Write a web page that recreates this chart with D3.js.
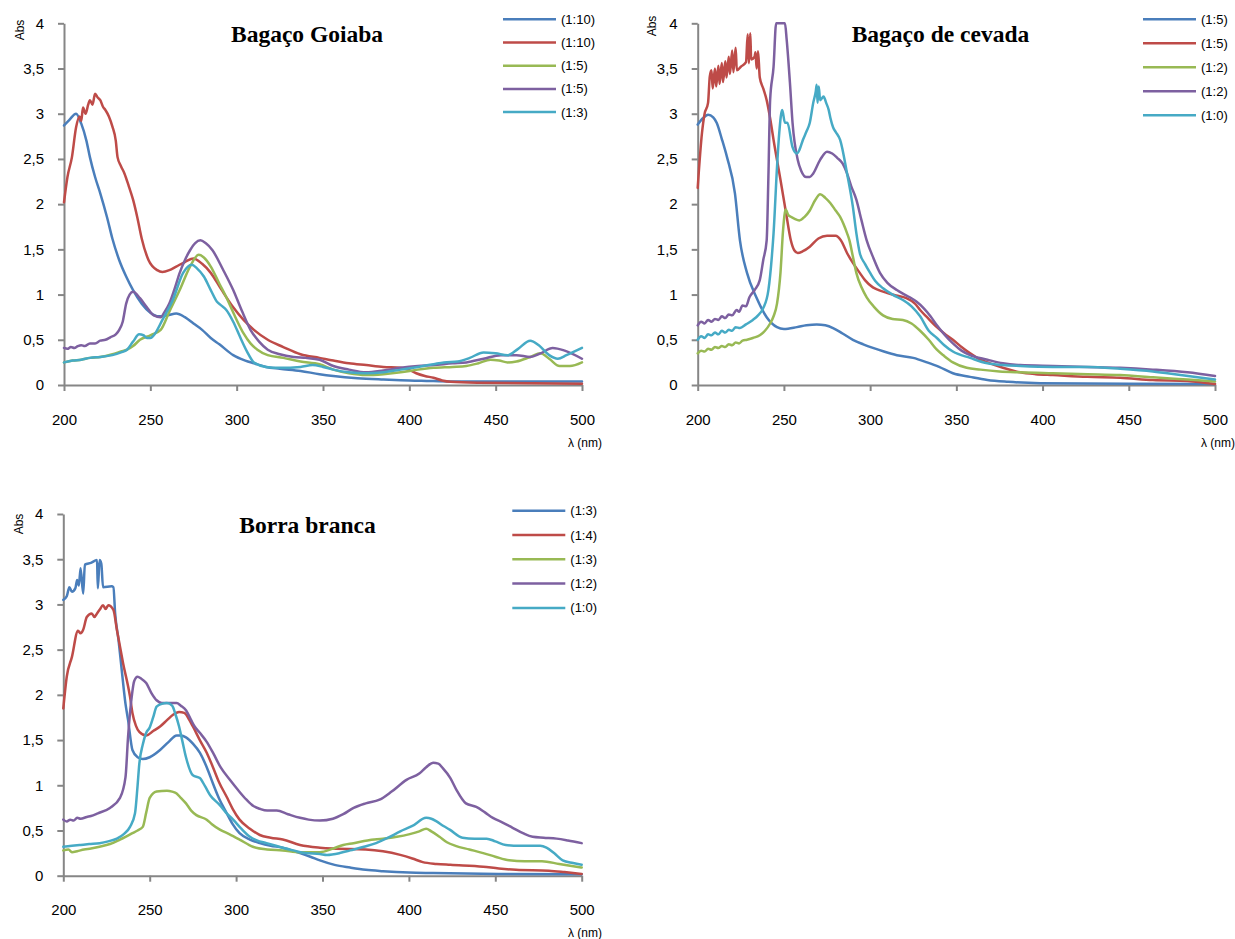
<!DOCTYPE html>
<html><head><meta charset="utf-8">
<script src="https://cdn.jsdelivr.net/npm/d3@7"></script>
<style>body{margin:0;background:#fff}svg{display:block;background:#fff}</style>
</head><body><svg id="c" width="1235" height="939"></svg>
<script>
// ---------- tick labels ----------
const xTicks = [200, 250, 300, 350, 400, 450, 500];
const yTicks = [0, 0.5, 1, 1.5, 2, 2.5, 3, 3.5, 4];
const yTickLabels = ["0", "0,5", "1", "1,5", "2", "2,5", "3", "3,5", "4"];
const seriesColors = ["#4A7EBB", "#BE4B48", "#98B954", "#7D60A0", "#46AAC5"];

// ---------- Bagaço Goiaba ----------
const goiabaTitle = "Bagaço Goiaba";
const goiabaLegend = ["(1:10)", "(1:10)", "(1:5)", "(1:5)", "(1:3)"];
const goiaba1 = [[200,2.87],[203,2.93],[207,3.0],[210,2.89],[213,2.7],[215,2.52],[218,2.3],[221,2.12],[225,1.85],[228,1.62],[232,1.38],[236,1.2],[240,1.05],[245,0.9],[250,0.8],[255,0.76],[260,0.77],[265,0.79],[270,0.75],[275,0.68],[280,0.61],[285,0.52],[290,0.45],[298,0.33],[305,0.27],[310,0.24],[317,0.2],[325,0.18],[337,0.155],[348,0.12],[356,0.1],[370,0.075],[385,0.06],[395,0.052],[410,0.045],[424,0.04],[450,0.04],[500,0.04]];
const goiaba2 = [[200,2.02],[202,2.3],[204.6,2.52],[207,2.85],[209,2.97],[210,2.92],[211,3.07],[212.5,3.0],[214,3.1],[215,3.15],[216.5,3.1],[218,3.22],[219.5,3.18],[221,3.15],[222.5,3.08],[224,3.04],[226,2.97],[228,2.86],[230,2.7],[231,2.52],[233,2.42],[235,2.34],[237.5,2.2],[240,2.05],[242.5,1.85],[245,1.62],[249,1.38],[254,1.27],[257,1.25],[261,1.27],[265,1.31],[270,1.36],[275,1.4],[280,1.34],[285,1.24],[291,1.06],[298,0.86],[304,0.72],[310,0.61],[318,0.5],[327,0.42],[337,0.34],[348,0.3],[356,0.27],[365,0.24],[375,0.22],[385,0.2],[395,0.19],[400,0.165],[404,0.13],[409,0.1],[414,0.08],[419,0.05],[424,0.035],[440,0.025],[500,0.015]];
const goiaba3 = [[200,0.25],[205,0.27],[210,0.28],[215,0.3],[221,0.31],[228,0.34],[233,0.37],[236.5,0.39],[240,0.43],[244,0.5],[250,0.55],[256,0.61],[261,0.81],[267,1.05],[273,1.31],[278,1.44],[281,1.41],[285,1.31],[290,1.12],[294,0.97],[299,0.76],[304,0.57],[308,0.46],[312,0.39],[318,0.33],[327,0.3],[337,0.26],[348,0.23],[356,0.17],[365,0.13],[375,0.11],[385,0.12],[395,0.14],[405,0.17],[414,0.19],[425,0.2],[433,0.21],[440,0.24],[447,0.28],[452,0.27],[457,0.25],[462,0.26],[470,0.31],[476,0.35],[481,0.29],[487,0.21],[493,0.21],[500,0.25]];
const goiaba4 = [[200,0.41],[202,0.4],[204,0.42],[206,0.41],[208,0.43],[210,0.44],[212,0.43],[215,0.46],[218,0.46],[221,0.49],[224,0.5],[227,0.53],[230,0.56],[232,0.61],[234,0.7],[236,0.9],[238,1.0],[240,1.03],[244,0.96],[248,0.86],[252,0.77],[256,0.75],[258,0.8],[261,0.9],[264,1.06],[267,1.24],[270,1.38],[273,1.49],[276,1.57],[279,1.6],[282,1.57],[286,1.49],[292,1.28],[298,1.05],[303,0.82],[308,0.61],[313,0.48],[318,0.39],[325,0.34],[333,0.31],[340,0.3],[348,0.28],[356,0.21],[365,0.17],[375,0.14],[385,0.16],[395,0.19],[405,0.21],[414,0.22],[425,0.24],[433,0.25],[443,0.29],[453,0.33],[462,0.33],[470,0.31],[476,0.35],[483,0.41],[490,0.38],[500,0.29]];
const goiaba5 = [[200,0.25],[205,0.27],[210,0.28],[215,0.3],[221,0.31],[228,0.33],[233,0.36],[236.5,0.39],[240,0.48],[243.5,0.56],[246,0.55],[248,0.52],[250,0.52],[252,0.55],[257,0.72],[263,0.94],[269,1.24],[274,1.33],[277,1.29],[281,1.2],[285,1.05],[288.6,0.92],[291,0.88],[294,0.83],[298,0.7],[302,0.53],[306,0.37],[310,0.25],[317,0.2],[325,0.19],[337,0.2],[344,0.22],[350,0.2],[356,0.17],[365,0.14],[375,0.13],[385,0.14],[395,0.17],[405,0.2],[414,0.23],[420,0.25],[428,0.26],[435,0.3],[443,0.36],[450,0.35],[457,0.33],[463,0.4],[470,0.49],[475,0.44],[481,0.33],[486,0.29],[491,0.33],[500,0.41]];

// ---------- Bagaço de cevada ----------
const cevadaTitle = "Bagaço de cevada";
const cevadaLegend = ["(1:5)", "(1:5)", "(1:2)", "(1:2)", "(1:0)"];
const cevada1 = [[200,2.88],[203,2.95],[206,2.99],[209,2.96],[211,2.9],[214,2.72],[217,2.52],[221.6,2.12],[224.5,1.6],[228.6,1.24],[234,0.97],[240,0.75],[246,0.64],[250,0.62],[257.5,0.64],[263,0.66],[269,0.67],[274,0.66],[278.5,0.63],[284,0.57],[290,0.5],[296,0.45],[301.6,0.41],[308,0.37],[315.5,0.33],[325,0.3],[333,0.25],[340,0.2],[348,0.13],[358,0.09],[368,0.055],[380,0.035],[398.6,0.02],[450,0.015],[500,0.01]];
const cevada2 = [[200,2.18],[202.5,2.79],[204,3.0],[206,3.12],[207,3.41],[208,3.48],[208.7,3.28],[210,3.5],[210.7,3.3],[212,3.53],[212.7,3.33],[214,3.56],[214.7,3.35],[216,3.58],[216.7,3.4],[218,3.63],[218.7,3.44],[220,3.7],[220.7,3.46],[222,3.73],[222.7,3.48],[225,3.52],[228,3.57],[229,3.88],[229.7,3.56],[230.5,3.89],[231,3.6],[233,3.63],[233.5,3.68],[234.2,3.5],[235,3.69],[236,3.4],[238,3.28],[240,3.15],[242,2.95],[244,2.71],[248,2.27],[251.6,1.86],[254,1.6],[256,1.49],[258,1.46],[261,1.48],[265,1.53],[270,1.62],[275,1.65],[280,1.65],[283,1.6],[286.6,1.46],[290,1.35],[294,1.24],[297,1.16],[301.6,1.08],[305,1.05],[309.6,1.02],[315,0.99],[321,0.96],[326,0.9],[329,0.83],[333,0.75],[338.7,0.64],[343,0.57],[348,0.5],[353,0.42],[358,0.35],[363,0.29],[368,0.25],[377,0.19],[387,0.14],[396,0.12],[406,0.11],[426,0.09],[445,0.08],[464,0.055],[484,0.045],[500,0.01]];
const cevada3 = [[200,0.35],[202,0.38],[204,0.37],[206,0.4],[208,0.39],[210,0.42],[212,0.41],[214,0.43],[216,0.42],[218,0.45],[220,0.44],[222,0.47],[224,0.46],[226,0.49],[228.6,0.5],[232,0.52],[236,0.55],[239,0.6],[242,0.68],[244,0.76],[246,0.9],[248,1.24],[249.5,1.71],[251,1.94],[252.5,1.88],[254,1.86],[256,1.84],[259,1.82],[262,1.86],[265,1.93],[268,2.04],[271,2.11],[274,2.07],[277,2.01],[280,1.93],[282.6,1.86],[286.6,1.68],[288,1.6],[290,1.42],[292,1.24],[295,1.08],[298,0.97],[302,0.87],[307.5,0.77],[313,0.73],[319,0.72],[324,0.68],[329,0.6],[334,0.5],[338.7,0.39],[343,0.32],[348,0.25],[356,0.19],[364,0.17],[375,0.15],[387,0.14],[406,0.13],[426,0.12],[445,0.11],[464,0.085],[484,0.06],[500,0.04]];
const cevada4 = [[200,0.66],[202,0.7],[204,0.68],[206,0.72],[208,0.7],[210,0.73],[212,0.72],[214,0.76],[216,0.74],[218,0.78],[220,0.77],[222.6,0.83],[224,0.81],[226,0.88],[228,0.87],[230,0.97],[233,1.05],[236,1.16],[238,1.38],[240,1.6],[241,2.3],[242,3.15],[244,3.52],[245.5,4.0],[250.6,4.0],[251.6,3.82],[253.5,3.34],[255,2.9],[258,2.49],[260,2.37],[263,2.3],[265,2.3],[267,2.34],[271,2.49],[275,2.58],[278,2.56],[281,2.51],[284,2.45],[286.6,2.34],[289,2.2],[292,2.05],[295,1.82],[298,1.6],[302,1.4],[305.7,1.24],[310,1.13],[315.5,1.05],[319,1.01],[323,0.97],[327,0.92],[331,0.85],[335,0.76],[338.7,0.66],[343,0.56],[348,0.46],[353,0.38],[358,0.33],[368,0.28],[377,0.24],[387,0.22],[406,0.21],[426,0.2],[445,0.19],[464,0.17],[484,0.14],[500,0.1]];
const cevada5 = [[200,0.5],[202,0.54],[204,0.52],[206,0.56],[208,0.55],[210,0.58],[212,0.56],[214,0.6],[216,0.58],[218,0.61],[220,0.6],[222,0.64],[224.5,0.63],[228,0.67],[232,0.72],[235,0.77],[238,0.85],[241,1.05],[243,1.42],[244,1.68],[246,2.41],[247.3,2.79],[249,3.04],[250.6,2.9],[252,2.9],[255,2.63],[257.5,2.56],[259,2.6],[261,2.71],[263,2.8],[265,2.9],[267,3.12],[268.5,3.25],[269,3.32],[269.5,3.12],[270.2,3.3],[271,3.15],[273,3.19],[274.5,3.12],[276,3.04],[277,2.95],[278.5,2.85],[280,2.8],[282.6,2.71],[286.6,2.34],[290,1.97],[292,1.68],[294,1.46],[297,1.34],[300,1.24],[303,1.15],[307.5,1.07],[313,1.0],[319,0.94],[324,0.87],[329,0.76],[334,0.6],[338.7,0.52],[343,0.44],[348,0.37],[358,0.3],[368,0.24],[377,0.22],[387,0.21],[406,0.2],[426,0.2],[445,0.18],[464,0.15],[480,0.11],[500,0.06]];

// ---------- Borra branca ----------
const borraTitle = "Borra branca";
const borraLegend = ["(1:3)", "(1:4)", "(1:3)", "(1:2)", "(1:0)"];
const borra1 = [[200,3.05],[202,3.09],[203.5,3.19],[205,3.14],[207,3.18],[208,3.27],[209,3.21],[210,3.4],[211.5,3.12],[212.5,3.44],[216,3.46],[219.5,3.49],[220,3.18],[221,3.49],[222,3.45],[223,3.19],[228,3.2],[229,3.19],[230,2.9],[232,2.6],[234,2.24],[236,1.9],[237.5,1.72],[240,1.39],[243,1.31],[246,1.29],[250,1.31],[256,1.39],[261,1.48],[265.6,1.55],[268,1.55],[271,1.53],[275,1.46],[279,1.36],[283,1.2],[286.6,1.02],[290,0.86],[294.6,0.69],[298,0.57],[302,0.47],[308,0.4],[313.7,0.36],[320,0.33],[327,0.31],[332,0.28],[337,0.25],[343,0.21],[348.5,0.17],[357,0.12],[366,0.09],[375,0.065],[385,0.05],[400,0.035],[414,0.03],[452,0.02],[500,0.015]];
const borra2 = [[200,1.85],[202,2.2],[205,2.42],[208.5,2.71],[210,2.68],[211.5,2.72],[213.6,2.86],[216.5,2.9],[218,2.86],[219.5,2.9],[221,2.94],[223,2.99],[224.5,2.95],[226,2.99],[229,2.94],[231,2.72],[234.6,2.35],[238.6,1.98],[240,1.8],[242,1.66],[244,1.59],[248,1.55],[252,1.6],[256,1.65],[260,1.72],[263.5,1.78],[267,1.81],[270,1.8],[273,1.72],[275,1.65],[279,1.5],[283,1.36],[286.6,1.2],[290,1.04],[294.6,0.87],[298,0.74],[302,0.62],[308,0.52],[313.7,0.45],[320,0.42],[327,0.4],[337,0.34],[348.5,0.31],[356,0.3],[375,0.29],[385,0.27],[395,0.23],[402,0.19],[408,0.15],[416,0.13],[424,0.12],[443,0.1],[452,0.08],[462,0.065],[481,0.055],[490,0.04],[500,0.02]];
const borra3 = [[200,0.28],[203,0.29],[205,0.26],[208,0.27],[212,0.29],[216,0.3],[221,0.32],[227,0.35],[232.8,0.4],[236,0.43],[240,0.47],[243,0.5],[246,0.54],[248,0.7],[250,0.86],[254,0.93],[260,0.94],[263,0.93],[265.6,0.91],[268,0.86],[271,0.8],[274,0.72],[277,0.67],[283,0.62],[286,0.57],[290.6,0.51],[296,0.46],[302,0.4],[309.7,0.32],[318,0.29],[327,0.28],[337,0.26],[348.5,0.26],[356,0.3],[362,0.34],[368,0.36],[376,0.39],[385,0.41],[393,0.43],[400.5,0.46],[406,0.49],[410,0.52],[413,0.49],[417.7,0.43],[422,0.37],[427,0.33],[435,0.29],[443,0.25],[450,0.21],[458,0.17],[467,0.16],[477,0.16],[487,0.13],[500,0.09]];
const borra4 = [[200,0.62],[202,0.6],[204,0.62],[206,0.61],[208,0.64],[210,0.63],[213.6,0.65],[216,0.66],[220,0.69],[227,0.75],[232.8,0.86],[236,1.09],[237.5,1.54],[239.6,1.98],[241,2.15],[243,2.2],[245,2.18],[248,2.13],[251,2.02],[254,1.94],[257,1.91],[260,1.91],[265.6,1.91],[268,1.88],[271,1.83],[274,1.72],[276,1.65],[279,1.58],[283,1.48],[286.6,1.36],[291,1.2],[296.4,1.06],[301,0.95],[306,0.84],[310,0.77],[313.7,0.74],[318,0.72],[323.5,0.72],[330,0.68],[337,0.64],[342,0.62],[348.5,0.61],[356,0.63],[362,0.68],[368,0.75],[375,0.8],[383,0.84],[390,0.93],[398.6,1.06],[406,1.13],[410,1.2],[414,1.25],[417,1.24],[419.6,1.19],[424,1.08],[427.5,0.95],[433,0.8],[439,0.76],[444,0.7],[448.6,0.64],[454,0.59],[460,0.53],[466,0.47],[471.6,0.43],[478,0.42],[485.5,0.41],[492,0.39],[500,0.36]];
const borra5 = [[200,0.32],[205,0.33],[210,0.34],[215,0.35],[221,0.36],[226,0.38],[231,0.41],[235,0.46],[238.6,0.54],[241.5,0.69],[243,1.0],[244,1.24],[246,1.45],[248,1.58],[250,1.64],[252,1.75],[254,1.87],[257,1.9],[260,1.91],[263,1.88],[265,1.78],[267,1.65],[269,1.48],[271,1.31],[275,1.11],[279,1.08],[282,0.99],[285,0.89],[290.6,0.78],[294,0.7],[298.3,0.62],[303,0.52],[308,0.43],[312,0.39],[317.6,0.36],[325,0.32],[333,0.28],[340,0.25],[348.5,0.24],[352.6,0.23],[360,0.25],[366,0.28],[374,0.32],[381,0.36],[388,0.42],[395,0.49],[402,0.55],[410,0.64],[413,0.63],[416,0.6],[420,0.55],[423.6,0.51],[431,0.42],[438,0.41],[445,0.41],[450,0.38],[456,0.34],[464,0.33],[471.6,0.33],[476,0.33],[479.6,0.31],[484,0.25],[489,0.17],[495,0.14],[500,0.12]];

// ---------- layout ----------
const panels = [
  { title: goiabaTitle, legend: goiabaLegend, series: [goiaba1, goiaba2, goiaba3, goiaba4, goiaba5],
    px0: 64, px1: 582, pyTop: 23.3, pyBot: 385, titleX: 231, titleY: 41.7,
    legX: 503, legY: 19.3, legDy: 23.2, absX: 20, absY: 30, lamX: 602, lamY: 447 },
  { title: cevadaTitle, legend: cevadaLegend, series: [cevada1, cevada2, cevada3, cevada4, cevada5],
    px0: 697.7, px1: 1215, pyTop: 23.3, pyBot: 385, titleX: 851.7, titleY: 41.7,
    legX: 1143, legY: 19.3, legDy: 24, absX: 652, absY: 26, lamX: 1235, lamY: 447 },
  { title: borraTitle, legend: borraLegend, series: [borra1, borra2, borra3, borra4, borra5],
    px0: 63.3, px1: 581.7, pyTop: 514, pyBot: 875.7, titleX: 239.3, titleY: 532.7,
    legX: 512.3, legY: 510.7, legDy: 24.3, absX: 19, absY: 524, lamX: 602, lamY: 937 }
];

const svg = d3.select("#c");
const axisColor = "#868686";
const sansFont = "'Liberation Sans', Arial, sans-serif";

panels.forEach(p => {
  const x = d3.scaleLinear().domain([200, 500]).range([p.px0, p.px1]);
  const y = d3.scaleLinear().domain([0, 4]).range([p.pyBot, p.pyTop]);
  const g = svg.append("g");

  const ya = g.append("g").attr("transform", `translate(${p.px0},0)`)
    .call(d3.axisLeft(y).tickValues(yTicks).tickFormat((d, i) => yTickLabels[i]).tickSize(6).tickSizeOuter(0).tickPadding(14));
  const xa = g.append("g").attr("transform", `translate(0,${p.pyBot})`)
    .call(d3.axisBottom(x).tickValues(xTicks).tickFormat(d3.format("d")).tickSize(6).tickSizeOuter(0));
  [ya, xa].forEach(a => {
    a.select(".domain").attr("stroke", axisColor).attr("stroke-width", 2);
    a.selectAll(".tick line").attr("stroke", axisColor).attr("stroke-width", 2);
    a.selectAll(".tick text").attr("fill", "#000").style("font-family", sansFont).style("font-size", "15px");
  });
  xa.selectAll(".tick text").attr("y", 39.5).attr("dy", null);

  const line = d3.line().x(d => x(d[0])).y(d => y(d[1])).curve(d3.curveMonotoneX);
  p.series.forEach((s, i) => {
    g.append("path").datum(s).attr("d", line)
      .attr("fill", "none").attr("stroke", seriesColors[i]).attr("stroke-width", 2.5)
      .attr("stroke-linejoin", "round").attr("stroke-linecap", "round");
  });

  g.append("text").attr("x", p.titleX).attr("y", p.titleY).text(p.title)
    .style("font-family", "'Liberation Serif', 'Times New Roman', serif").style("font-weight", "bold").style("font-size", "23.5px");

  p.legend.forEach((lab, i) => {
    const ly = p.legY + i * p.legDy;
    g.append("line").attr("x1", p.legX).attr("x2", p.legX + 53).attr("y1", ly).attr("y2", ly)
      .attr("stroke", seriesColors[i]).attr("stroke-width", 2.5);
    g.append("text").attr("x", p.legX + 58).attr("y", ly).attr("dy", "0.35em").text(lab)
      .style("font-family", sansFont).style("font-size", "13px").attr("fill", "#000");
  });

  g.append("text").attr("transform", `translate(${p.absX},${p.absY}) rotate(-90)`)
    .attr("text-anchor", "middle").attr("dy", "0.35em").text("Abs")
    .style("font-family", sansFont).style("font-size", "12px");
  g.append("text").attr("x", p.lamX).attr("y", p.lamY).attr("text-anchor", "end").text("λ (nm)")
    .style("font-family", sansFont).style("font-size", "12px");
});
</script>
</body></html>
